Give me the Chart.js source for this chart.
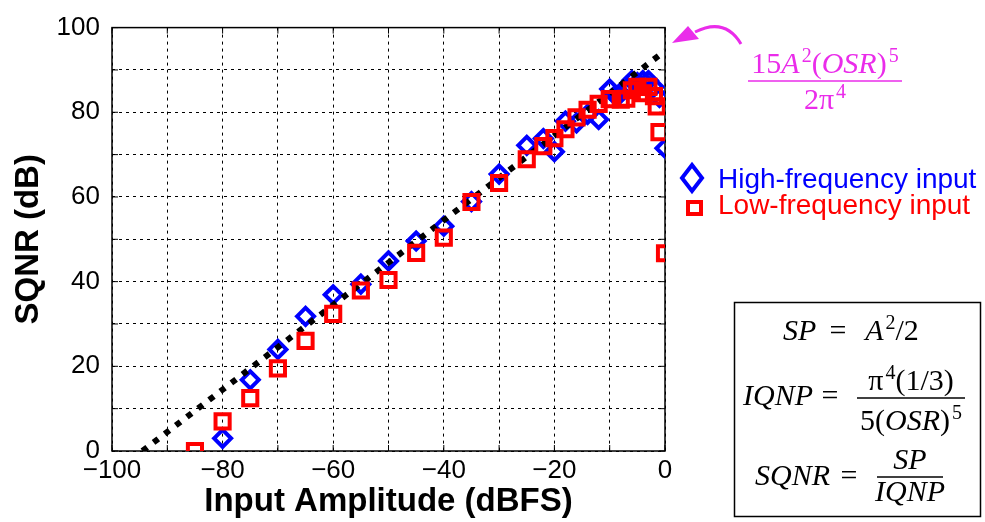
<!DOCTYPE html>
<html>
<head>
<meta charset="utf-8">
<script src="https://cdn.jsdelivr.net/npm/chart.js@4.4.1/dist/chart.umd.min.js"></script>
<style>
  html, body { margin: 0; padding: 0; background: #fff; }
  canvas { display: block; }
</style>
</head>
<body>
<canvas id="sqnrChart" width="985" height="522"></canvas>
<script>
// High-frequency input (blue diamonds)
const highAmp = [-80, -75, -70, -65, -60, -55, -50, -45, -40, -35, -30, -25,
  -22, -20, -18, -16, -14, -12, -10, -9, -8, -7, -6, -5, -4, -3, -2, -1, 0];
const highSqnr = [3, 16.8, 24, 31.8, 36.9, 39.4, 44.9, 49.6, 53.1, 58.9, 65.4, 72.2,
  73.8, 70.7, 77.9, 77.5, 79.5, 78.3, 85.5, 84, 84.5, 86, 87.5, 87, 87.5, 87.5, 86, 83.5, 71.5];

// Low-frequency input (red squares)
const lowAmp = [-85, -80, -75, -70, -65, -60, -55, -50, -45, -40, -35, -30, -25,
  -22, -20, -18, -16, -14, -12, -10, -8, -7, -6, -5, -4, -3, -2, -1.5, -1, 0];
const lowSqnr = [0, 7, 12.5, 19.5, 26, 32.4, 37.9, 40.4, 46.8, 50.4, 58.8, 63.3, 68.9,
  72, 73.9, 76, 78.8, 80.6, 82, 83.1, 83, 83.2, 85.2, 86, 84.5, 86, 83.8, 81.4, 75.3, 46.7];

// Theoretical SQNR line 15A^2(OSR)^5 / 2pi^4
const idealAmp = [-94.5, 0];
const idealSqnr = [0, 94.5];

// labelled ticks (grid every 10)
const xTicks = [-100, -80, -60, -40, -20, 0];
const yTicks = [0, 20, 40, 60, 80, 100];

const SANS = '"Liberation Sans", Arial, Helvetica, sans-serif';
const SERIF = '"Liberation Serif", "Times New Roman", serif';
const BLUE = '#0000ff';
const RED = '#ff0000';
const MAGENTA = '#ea2cea';

function toPoints(xs, ys) {
  return xs.map((x, i) => ({ x: x, y: ys[i] }));
}

function fmt(v) {
  return v < 0 ? '\u2212' + Math.abs(v) : String(v);
}

// math text: parts are [text, kind], kind 'i' italic, 'n' upright, 's' superscript
function fontFor(kind, size) {
  if (kind === 'i') return 'italic ' + size + 'px ' + SERIF;
  if (kind === 's') return Math.round(size * 0.68) + 'px ' + SERIF;
  return size + 'px ' + SERIF;
}

function mathWidth(ctx, parts, size) {
  let w = 0;
  parts.forEach(p => {
    ctx.font = fontFor(p[1], size);
    w += ctx.measureText(p[0]).width + (p[1] === 's' ? 2 : 0);
  });
  return w;
}

function drawMath(ctx, parts, x, y, size, align) {
  const w = mathWidth(ctx, parts, size);
  let cx = align === 'center' ? x - w / 2 : x;
  ctx.textAlign = 'left';
  ctx.textBaseline = 'alphabetic';
  parts.forEach(p => {
    ctx.font = fontFor(p[1], size);
    if (p[1] === 's') cx += 2;
    const dy = p[1] === 's' ? -size * 0.38 : 0;
    ctx.fillText(p[0], cx, y + dy);
    cx += ctx.measureText(p[0]).width;
  });
  return w;
}

function fracLine(ctx, x1, x2, y) {
  ctx.beginPath();
  ctx.lineWidth = 1.5;
  ctx.moveTo(x1, y);
  ctx.lineTo(x2, y);
  ctx.stroke();
}

const decorPlugin = {
  id: 'decor',
  beforeDatasetsDraw(chart) {
    const { ctx, chartArea: a, scales } = chart;
    ctx.save();
    ctx.strokeStyle = '#000';
    ctx.lineWidth = 1.5;
    ctx.strokeRect(a.left, a.top, a.right - a.left, a.bottom - a.top);
    // small inward ticks
    ctx.lineWidth = 1;
    ctx.beginPath();
    for (let v = 0; v <= 100; v += 10) {
      const py = scales.y.getPixelForValue(v);
      ctx.moveTo(a.left, py); ctx.lineTo(a.left + 6, py);
      ctx.moveTo(a.right, py); ctx.lineTo(a.right - 6, py);
    }
    for (let v = -100; v <= 0; v += 10) {
      const px = scales.x.getPixelForValue(v);
      ctx.moveTo(px, a.bottom); ctx.lineTo(px, a.bottom - 6);
      ctx.moveTo(px, a.top); ctx.lineTo(px, a.top + 6);
    }
    ctx.stroke();
    ctx.restore();
  },
  afterDraw(chart) {
    const ctx = chart.ctx;
    const sets = chart.data.datasets;
    ctx.save();

    // legend
    const high = sets.find(d => d.pointStyle === 'rectRot');
    const low = sets.find(d => d.pointStyle === 'rect');
    ctx.lineWidth = 4;
    ctx.strokeStyle = high.pointBorderColor;
    ctx.beginPath();
    ctx.moveTo(692, 165); ctx.lineTo(702, 178); ctx.lineTo(692, 191); ctx.lineTo(682, 178);
    ctx.closePath();
    ctx.stroke();
    ctx.strokeStyle = low.pointBorderColor;
    ctx.strokeRect(688, 202, 13, 12);
    ctx.font = '28px ' + SANS;
    ctx.textAlign = 'left';
    ctx.textBaseline = 'alphabetic';
    ctx.fillStyle = high.pointBorderColor;
    ctx.fillText(high.label, 718, 188);
    ctx.fillStyle = low.pointBorderColor;
    ctx.fillText(low.label, 718, 214);

    // magenta arrow and formula
    ctx.strokeStyle = MAGENTA;
    ctx.fillStyle = MAGENTA;
    ctx.lineWidth = 3;
    ctx.beginPath();
    ctx.moveTo(741, 44);
    ctx.quadraticCurveTo(725, 17, 695, 32);
    ctx.stroke();
    ctx.beginPath();
    ctx.moveTo(672, 43);
    ctx.lineTo(688, 26);
    ctx.lineTo(699, 39);
    ctx.closePath();
    ctx.fill();
    drawMath(ctx, [['15', 'n'], ['A', 'i'], ['2', 's'], ['(', 'n'], ['OSR', 'i'], [')', 'n'], ['5', 's']], 825, 73, 30, 'center');
    fracLine(ctx, 748, 902, 81);
    drawMath(ctx, [['2\u03c0', 'n'], ['4', 's']], 825, 109, 30, 'center');

    // formula box
    ctx.strokeStyle = '#000';
    ctx.fillStyle = '#000';
    ctx.lineWidth = 1.5;
    ctx.strokeRect(734.5, 302.5, 246, 214);
    drawMath(ctx, [['SP', 'i']], 783, 340, 30, 'left');
    drawMath(ctx, [['=', 'n']], 838, 340, 30, 'center');
    drawMath(ctx, [['A', 'i'], ['2', 's'], ['/2', 'n']], 892, 340, 30, 'center');

    drawMath(ctx, [['IQNP', 'i']], 743, 405, 30, 'left');
    drawMath(ctx, [['=', 'n']], 830, 405, 30, 'center');
    drawMath(ctx, [['\u03c0', 'n'], ['4', 's'], ['(1/3)', 'n']], 911, 390, 30, 'center');
    fracLine(ctx, 857, 965, 398);
    drawMath(ctx, [['5(', 'n'], ['OSR', 'i'], [')', 'n'], ['5', 's']], 911, 430, 30, 'center');

    drawMath(ctx, [['SQNR', 'i']], 755, 485, 30, 'left');
    drawMath(ctx, [['=', 'n']], 849, 485, 30, 'center');
    drawMath(ctx, [['SP', 'i']], 910, 469, 30, 'center');
    fracLine(ctx, 877, 943, 477);
    drawMath(ctx, [['IQNP', 'i']], 910, 501, 30, 'center');

    ctx.restore();
  }
};

new Chart(document.getElementById('sqnrChart'), {
  type: 'scatter',
  data: {
    datasets: [{
      label: 'Low-frequency input',
      data: toPoints(lowAmp, lowSqnr),
      pointStyle: 'rect',
      pointRadius: 10,
      pointBorderWidth: 4,
      pointBorderColor: RED,
      pointBackgroundColor: 'rgba(0,0,0,0)',
      borderColor: RED,
      order: 0
    }, {
      label: 'Theory',
      data: toPoints(idealAmp, idealSqnr),
      showLine: true,
      borderColor: '#000',
      borderWidth: 6,
      borderDash: [6, 8],
      borderCapStyle: 'butt',
      pointRadius: 0,
      order: 1
    }, {
      label: 'High-frequency input',
      data: toPoints(highAmp, highSqnr),
      pointStyle: 'rectRot',
      pointRadius: 8.5,
      pointBorderWidth: 4,
      pointBorderColor: BLUE,
      pointBackgroundColor: 'rgba(0,0,0,0)',
      borderColor: BLUE,
      order: 2
    }]
  },
  options: {
    responsive: false,
    animation: false,
    events: [],
    layout: {
      padding: { left: 0, right: 320, top: 24, bottom: 0 }
    },
    plugins: {
      legend: { display: false },
      tooltip: { enabled: false }
    },
    scales: {
      x: {
        type: 'linear',
        min: -100,
        max: 0,
        afterFit: function (scale) { scale.height = 71; },
        ticks: {
          stepSize: 10,
          autoSkip: false,
          maxRotation: 0,
          padding: 4,
          color: '#000',
          font: { family: SANS, size: 26 },
          callback: v => xTicks.includes(v) ? fmt(v) : ''
        },
        grid: { color: '#000', lineWidth: 1, drawTicks: false },
        border: { display: false, dash: [3, 4] },
        title: {
          display: true,
          text: 'Input Amplitude (dBFS)',
          color: '#000',
          font: { family: SANS, size: 33, weight: 'bold' },
          padding: { top: 0, bottom: 0 }
        }
      },
      y: {
        type: 'linear',
        min: 0,
        max: 100,
        afterFit: function (scale) { scale.width = 112; },
        ticks: {
          stepSize: 10,
          autoSkip: false,
          padding: 12,
          color: '#000',
          font: { family: SANS, size: 26 },
          callback: v => yTicks.includes(v) ? fmt(v) : ''
        },
        grid: { color: '#000', lineWidth: 1, drawTicks: false },
        border: { display: false, dash: [3, 4] },
        title: {
          display: true,
          text: 'SQNR (dB)',
          color: '#000',
          font: { family: SANS, size: 33, weight: 'bold' },
          padding: { top: 9, bottom: 0 }
        }
      }
    }
  },
  plugins: [decorPlugin]
});
</script>
</body>
</html>
